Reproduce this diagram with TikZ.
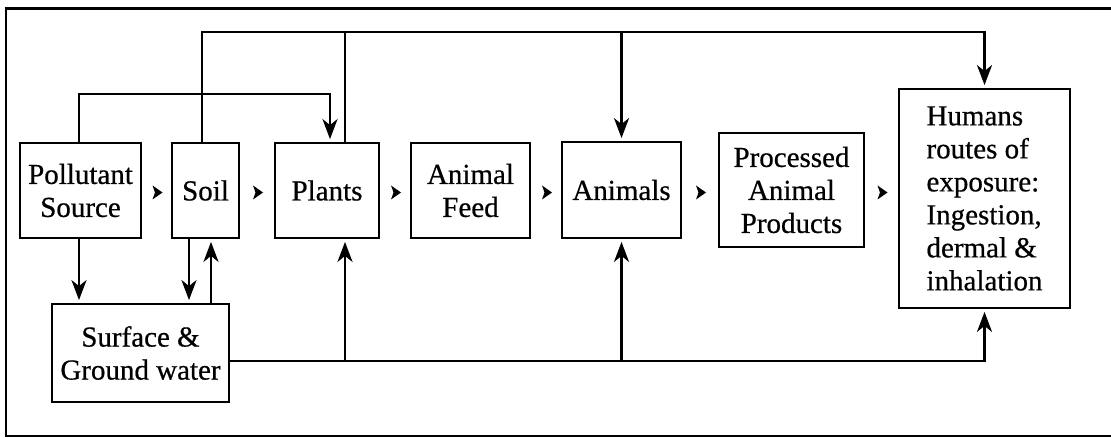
\documentclass[tikz,border=0pt]{standalone}
\usepackage{fontspec}
\setmainfont{Liberation Serif}[FakeBold=0.6]
\usetikzlibrary{arrows.meta,calc}
\begin{document}
\begin{tikzpicture}[x=1pt,y=-1pt,
  box/.style={draw, line width=2.8pt, inner sep=0pt, font=\fontsize{29}{33}\selectfont, align=center},
  conn/.style={line width=2.6pt},
  arr/.style={conn, -{Stealth[length=20pt,width=15pt,inset=6pt]}, shorten >=2.5pt}]
\useasboundingbox (0,0) rectangle (1111,438);
% frame
\draw[line width=2.8pt] (1115,8.5) -- (6,8.5) -- (6,436) -- (1115,436);
% boxes
\node[box, minimum width=121pt, minimum height=95pt] (src) at (80.5,190.5) {Pollutant\\Source};
\node[box, minimum width=67pt, minimum height=95pt] (soil) at (205.5,190.5) {Soil};
\node[box, minimum width=104pt, minimum height=95pt] (plants) at (327,190.5) {Plants};
\node[box, minimum width=119pt, minimum height=95pt] (feed) at (470.5,190.5) {Animal\\Feed};
\node[box, minimum width=119pt, minimum height=96pt] (animals) at (621.5,190) {Animals};
\node[box, minimum width=145pt, minimum height=114pt] (proc) at (791.5,190) {Processed\\Animal\\Products};
\node[box, minimum width=171pt, minimum height=219pt, align=left] (humans) at (984.5,198.5) {Humans\\routes of\\exposure:\\Ingestion,\\dermal \&\\inhalation};
\node[box, minimum width=177pt, minimum height=98pt] (water) at (140.5,353) {Surface \&\\Ground water};
% helper coordinates
\coordinate (topy) at (0,32);
\coordinate (midy) at (0,94);
\coordinate (boty) at (0,361);
\coordinate (rowy) at (0,192.5);
\coordinate (soilT) at ([xshift=-3.5pt]soil.north);
\coordinate (plantsT) at ([xshift=18pt]plants.north);
\coordinate (plantsA) at ([xshift=3pt]plants.north);
\coordinate (plantsB) at ([xshift=18pt]plants.south);
\coordinate (srcT) at ([xshift=-1.5pt]src.north);
\coordinate (srcB) at ([xshift=-1.5pt]src.south);
\coordinate (soilB1) at ([xshift=-16.5pt]soil.south);
\coordinate (soilB2) at ([xshift=5.5pt]soil.south);
% connectors
\draw[arr] (soilT) |- (topy -| humans.north) -- (humans.north);
\draw[conn] (plantsT) -- (plantsT |- topy);
\draw[arr] (animals.north |- topy) -- (animals.north);
\draw[arr] (srcT) |- (midy -| plantsA) -- (plantsA);
\draw[arr] (srcB) -- (srcB |- water.north);
\draw[arr] (soilB1) -- (soilB1 |- water.north);
\draw[arr] (soilB2 |- water.north) -- (soilB2);
\draw[arr] (water.east |- boty) -| (humans.south);
\draw[arr] (plantsB |- boty) -- (plantsB);
\draw[arr] (animals.south |- boty) -- (animals.south);
% small flow markers
\foreach \a/\b in {src/soil, soil/plants, plants/feed, feed/animals, animals/proc, proc/humans} {
  \coordinate (m) at ($(\a.east)!0.5!(\b.west)$);
  \fill (m |- rowy) +(-4,-7) -- +(6,0) -- +(-4,7) -- +(-1.5,0) -- cycle;
}
\end{tikzpicture}
\end{document}
